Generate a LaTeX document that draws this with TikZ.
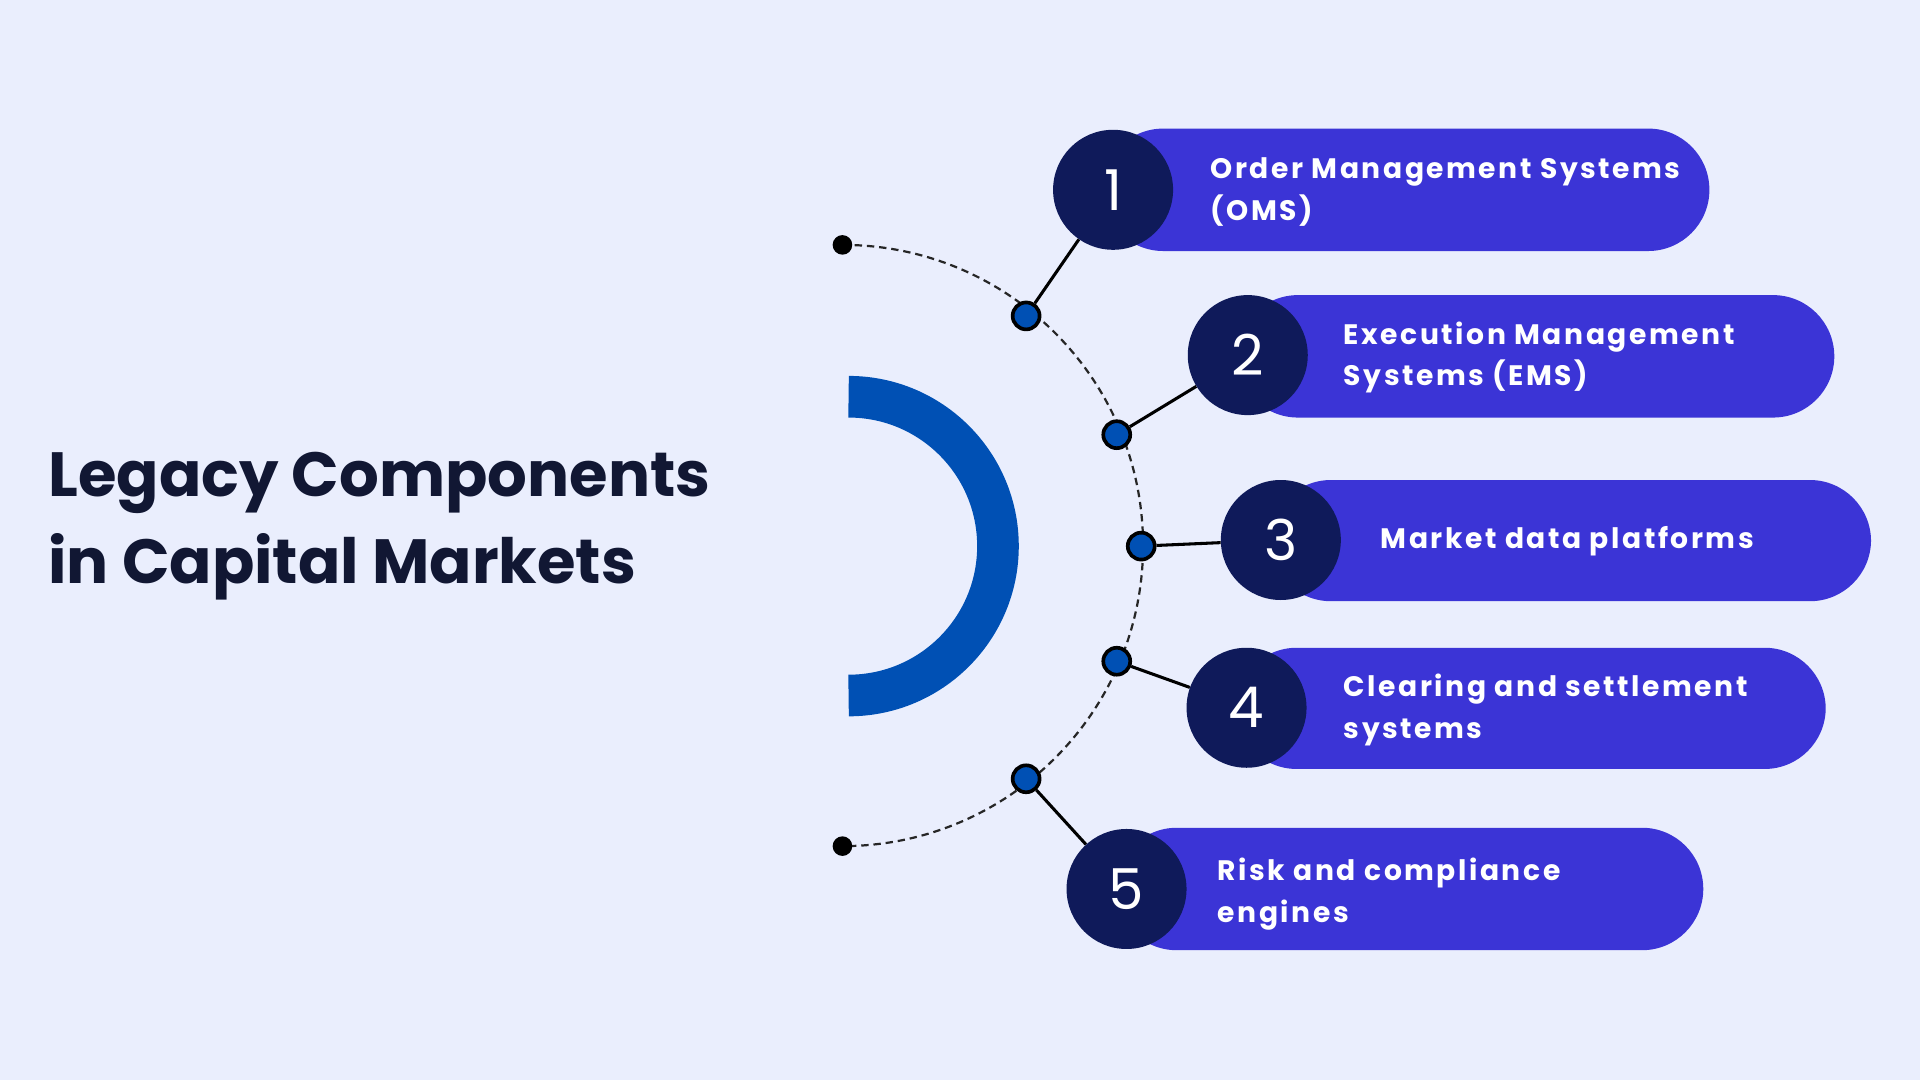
\documentclass[tikz,border=0pt]{standalone}
\usepackage{fontspec}
\setmainfont{Poppins}
\usetikzlibrary{calc}
\definecolor{bg}{HTML}{EAEEFD}
\definecolor{pill}{HTML}{3B34D6}
\definecolor{navy}{HTML}{0F1A5A}
\definecolor{ring}{HTML}{0050B4}
\definecolor{ttl}{HTML}{111733}
\begin{document}
\begin{tikzpicture}[x=1pt,y=-1pt,
  pillst/.style={fill=pill, rounded corners=50pt},
  num/.style={circle, fill=navy, minimum size=98pt, inner sep=0pt, text=white, font=\fontsize{46}{46}\selectfont},
  lab/.style={anchor=west, text=white, align=left, font=\fontsize{23}{34}\selectfont\bfseries\addfontfeature{LetterSpace=9}},
  dot/.style={circle, fill=ring, draw=black, line width=3pt, minimum size=22pt, inner sep=0pt},
  enddot/.style={circle, fill=black, minimum size=16pt, inner sep=0pt},
  conn/.style={line width=2.5pt, black}]
\fill[bg] (0,0) rectangle (1568,882);
\useasboundingbox (0,0) rectangle (1568,882);
% title
\node[anchor=west, text=ttl, align=left, font=\fontsize{51}{71}\selectfont\bfseries] (title) at (36,430) {Legacy Components\\in Capital Markets};
% blue ring
\draw[ring, line width=34pt] (693,324) arc[start angle=90, end angle=-90, radius=122pt];
% dashed arc
\draw[dashed, line width=1.8pt, black!85, dash pattern=on 6pt off 4pt] (688,200) arc[start angle=90, end angle=-90, radius=245.5pt];
\node[enddot] (e1) at (688,200) {};
\node[enddot] (e2) at (688,691) {};
% pills
\fill[pillst] (900,105) rectangle (1396,205);
\fill[pillst] (1010,241) rectangle (1498,341);
\fill[pillst] (1037,392) rectangle (1528,491);
\fill[pillst] (1009,529) rectangle (1491,628);
\fill[pillst] (911,676) rectangle (1391,776);
% dots on arc
\node[dot] (d1) at (838,258) {};
\node[dot] (d2) at (912,355) {};
\node[dot] (d3) at (932,446) {};
\node[dot] (d4) at (912,540) {};
\node[dot] (d5) at (838,636) {};
% number circles
\node[num] (n1) at (909,155) {1};
\node[num] (n2) at (1019,290) {2};
\node[num] (n3) at (1046,441) {3};
\node[num] (n4) at (1018,578) {4};
\node[num] (n5) at (920,726) {5};
% connectors
\draw[conn] (d1) -- (n1);
\draw[conn] (d2) -- (n2);
\draw[conn] (d3) -- (n3);
\draw[conn] (d4) -- (n4);
\draw[conn] (d5) -- (n5);
% labels
\node[lab] (l1) at (985,157) {Order Management Systems\\(OMS)};
\node[lab] (l2) at (1094,292) {Execution Management\\Systems (EMS)};
\node[lab] (l3) at (1124,442) {Market data platforms};
\node[lab] (l4) at (1094,580) {Clearing and settlement\\systems};
\node[lab] (l5) at (991,730) {Risk and compliance\\engines};
\end{tikzpicture}
\end{document}
